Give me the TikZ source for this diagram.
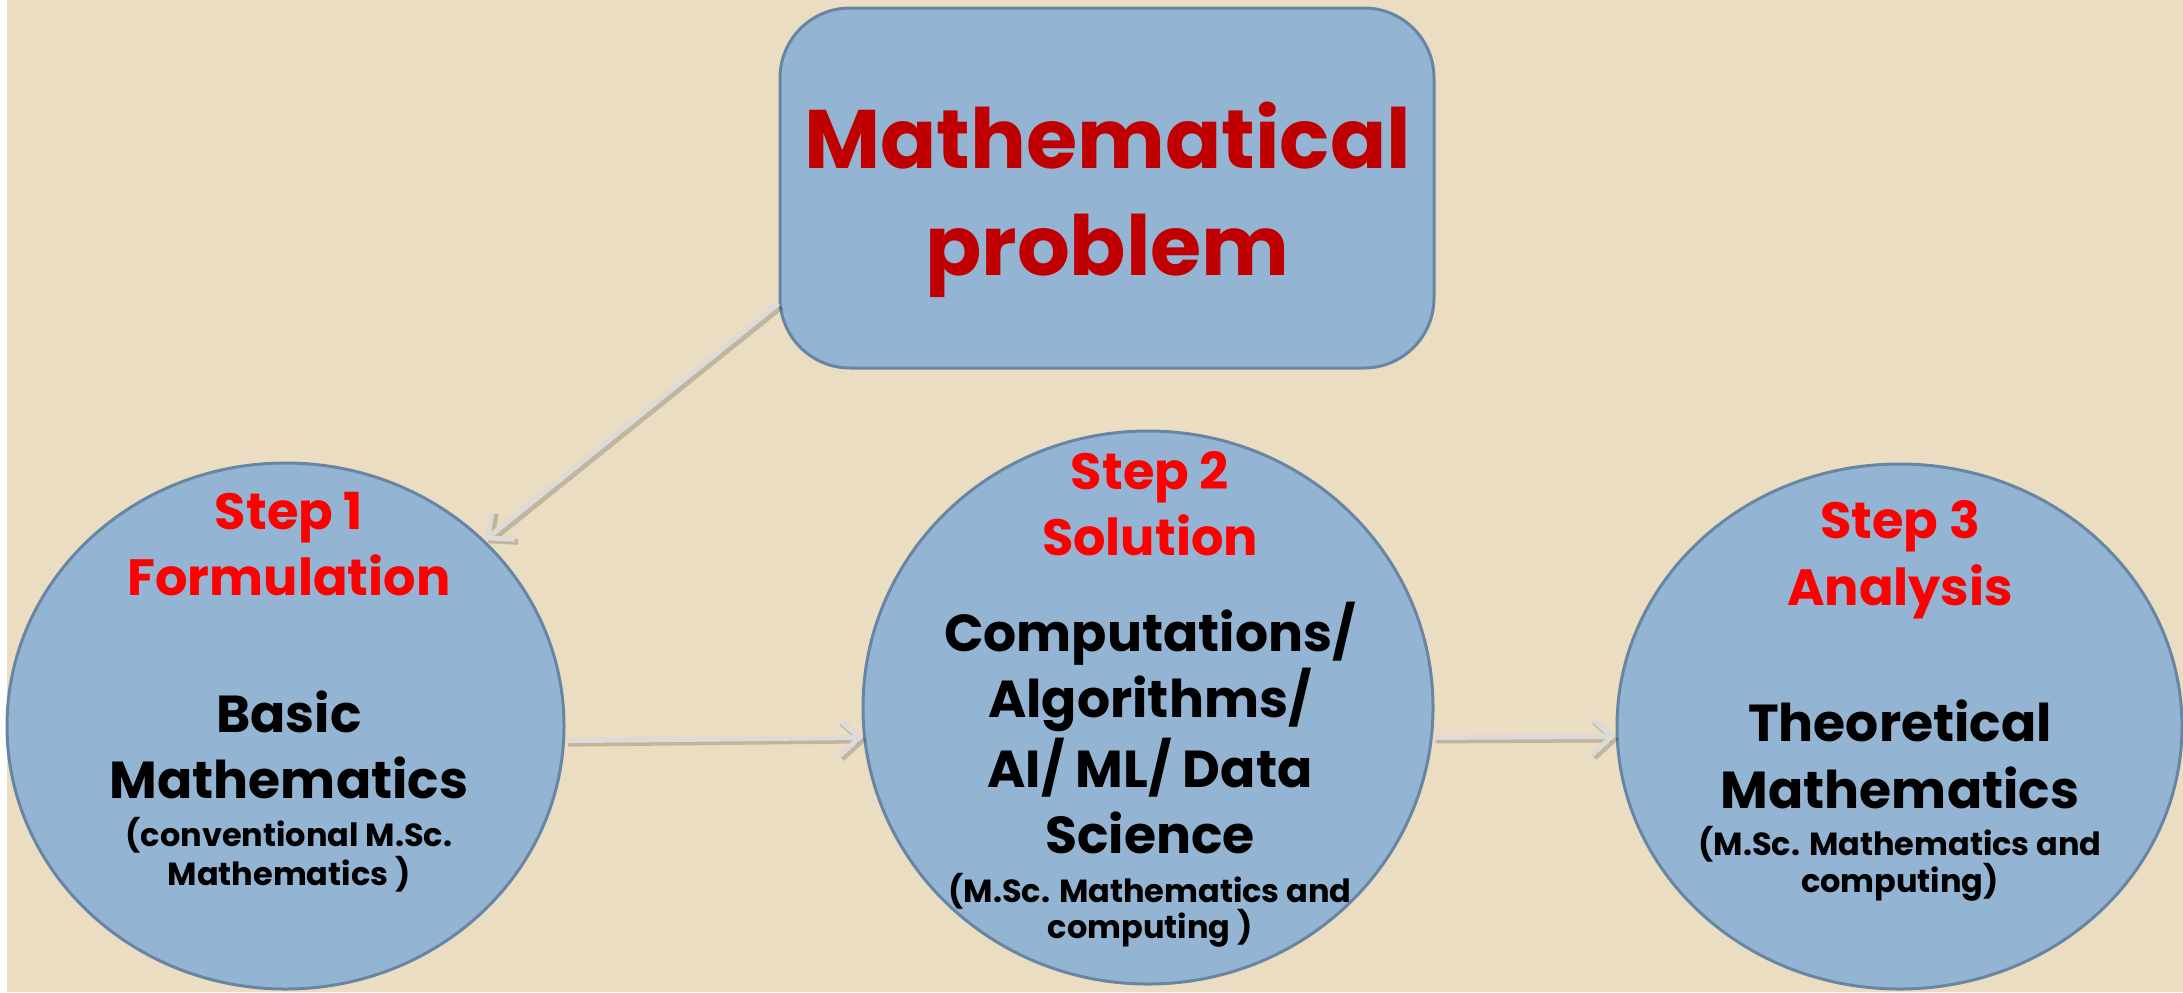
\documentclass[tikz,border=0pt]{standalone}
\usepackage{fontspec}
\setsansfont{Poppins}
\usetikzlibrary{arrows.meta,shapes.geometric,calc}
\definecolor{bg}{HTML}{EBDDC1}
\definecolor{shapefill}{HTML}{94B4D3}
\definecolor{shapeedge}{HTML}{6886A3}
\definecolor{titlered}{HTML}{C00000}
\definecolor{stepred}{HTML}{FF0000}
\definecolor{arrowgray}{HTML}{DDDAD7}
\tikzset{
  blob/.style={draw=shapeedge, fill=shapefill, line width=1.5pt, ellipse, inner sep=0pt},
  topbox/.style={draw=shapeedge, fill=shapefill, line width=1.5pt, rounded corners=35pt, inner sep=0pt},
  txt/.style={anchor=base, inner sep=0pt, font=\sffamily\bfseries},
  titletxt/.style={txt, text=titlered, font=\sffamily\bfseries\fontsize{41.5}{42}\selectfont},
  steptxt/.style={txt, text=stepred, font=\sffamily\bfseries\fontsize{25.5}{26}\selectfont},
  maintxt/.style={txt, text=black, font=\sffamily\bfseries\fontsize{26}{26}\selectfont},
  smalltxt/.style={txt, text=black, font=\sffamily\bfseries\fontsize{16}{16}\selectfont},
  conn/.style={draw=arrowgray, line width=2.5pt, -{Straight Barb[length=10pt, width=18pt, line width=2.5pt]}},
  connshadow/.style={draw=black, opacity=0.18, line width=3pt, -{Straight Barb[length=10pt, width=18pt, line width=3pt]}}
}
\begin{document}
\begin{tikzpicture}[x=0.5pt, y=-0.5pt]
\useasboundingbox (0,0) rectangle (2183,992);
\fill[white] (0,0) rectangle (2183,992);
\fill[bg] (7,0) rectangle (2183,992);

% shapes
\node[topbox, minimum width=327pt, minimum height=180pt] (box) at (1107,188) {};
\node[blob, minimum width=278.5pt, minimum height=263pt] (e1) at (285.5,726) {};
\node[blob, minimum width=285pt, minimum height=276.5pt] (e2) at (1148,707.5) {};
\node[blob, minimum width=282.5pt, minimum height=262.5pt] (e3) at (1899.5,726.5) {};

% connectors
\coordinate (bstart) at ($(box.south west)+(0,-66)$);
\draw[connshadow, transform canvas={shift={(1.5pt,-1.5pt)}}] (bstart) -- (e1.43.6);
\draw[conn] (bstart) -- (e1.43.6);
\draw[connshadow, transform canvas={shift={(1.5pt,-1.5pt)}}] (e1.-3) -- (e2.186.5);
\draw[conn] (e1.-3) -- (e2.186.5);
\draw[connshadow, transform canvas={shift={(1.5pt,-1.5pt)}}] (e2.-6.5) -- (e3.182.7);
\draw[conn] (e2.-6.5) -- (e3.182.7);

% title
\node[titletxt] (t1) at (1107.5,168) {Mathematical};
\node[titletxt] (t2) at (1107.5,275) {problem};

% circle 1
\node[steptxt] (a1) at (289,529) {Step 1};
\node[steptxt] (a2) at (289,595) {Formulation};
\node[maintxt] (a3) at (289,732) {Basic};
\node[maintxt] (a4) at (289,798) {Mathematics};
\node[smalltxt] (a5) at (289,846) {(conventional M.Sc.};
\node[smalltxt] (a6) at (289,885) {Mathematics )};

% circle 2
\node[steptxt] (b1) at (1150,489) {Step 2};
\node[steptxt] (b2) at (1150,555) {Solution};
\node[maintxt] (b3) at (1150,651) {Computations/};
\node[maintxt] (b4) at (1150,717) {Algorithms/};
\node[maintxt] (b5) at (1150,787) {AI/ ML/ Data};
\node[maintxt] (b6) at (1150,853) {Science};
\node[smalltxt] (b7) at (1150,902) {(M.Sc. Mathematics and};
\node[smalltxt] (b8) at (1150,938) {computing )};

% circle 3
\node[steptxt] (c1) at (1900,538) {Step 3};
\node[steptxt] (c2) at (1900,605) {Analysis};
\node[maintxt] (c3) at (1900,741) {Theoretical};
\node[maintxt] (c4) at (1900,808) {Mathematics};
\node[smalltxt] (c5) at (1900,855) {(M.Sc. Mathematics and};
\node[smalltxt] (c6) at (1900,892) {computing)};
\end{tikzpicture}
\end{document}
